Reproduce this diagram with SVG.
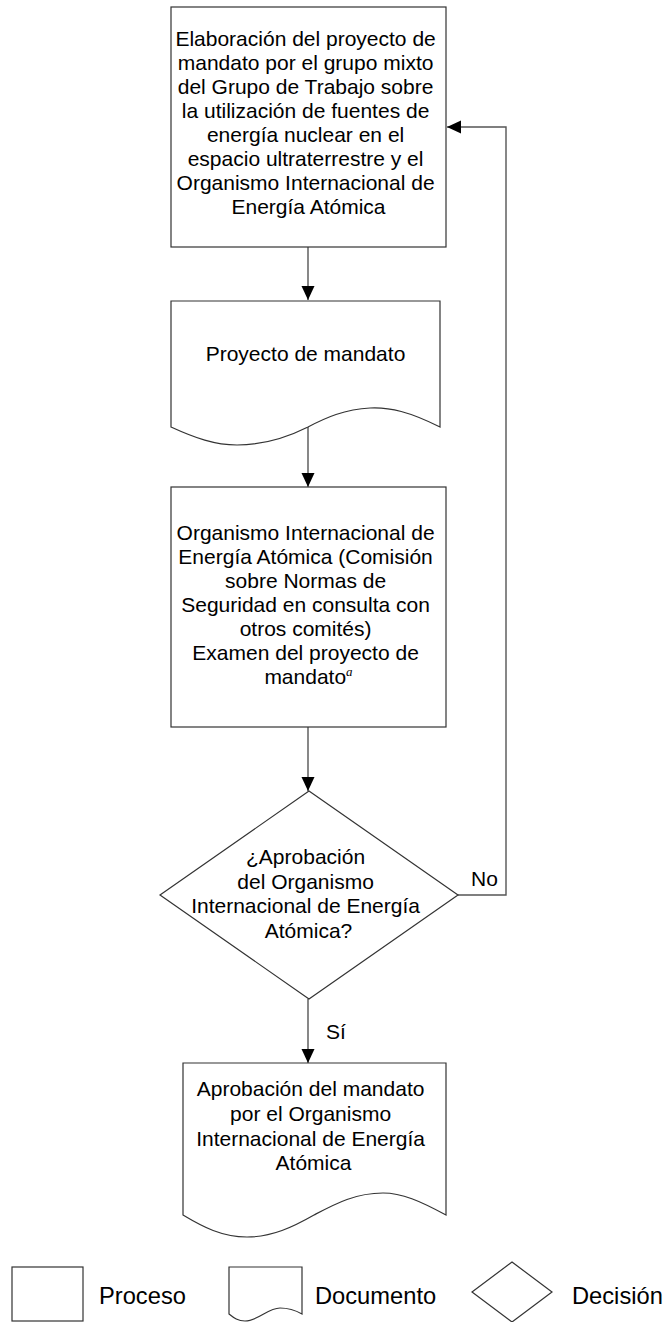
<svg xmlns="http://www.w3.org/2000/svg" width="664" height="1322" viewBox="0 0 664 1322">
<defs>
<style>
.shape{fill:#fff;stroke:#333;stroke-width:1.2}
.conn{fill:none;stroke:#555;stroke-width:1.4}
.t{font-family:"Liberation Sans",Arial,sans-serif;font-size:21px;fill:#000;text-anchor:middle}
.lbl{font-family:"Liberation Sans",Arial,sans-serif;font-size:21px;fill:#000}
.leg{font-family:"Liberation Sans",Arial,sans-serif;font-size:23.7px;fill:#000}
.sup{font-family:"Liberation Serif","Times New Roman",serif;font-style:italic;font-size:13px}
</style>
<marker id="arr" viewBox="0 0 14 14" refX="14" refY="7" markerWidth="14" markerHeight="14" markerUnits="userSpaceOnUse" orient="auto">
<path d="M0,0.5 L14,7 L0,13.5 Z" fill="#000"/>
</marker>
</defs>
<rect width="664" height="1322" fill="#fff"/>

<g id="connectors">
<line class="conn" x1="308" y1="247" x2="308" y2="300" marker-end="url(#arr)"/>
<line class="conn" x1="308" y1="427" x2="308" y2="487" marker-end="url(#arr)"/>
<line class="conn" x1="308" y1="727" x2="308" y2="791" marker-end="url(#arr)"/>
<line class="conn" x1="308" y1="999" x2="308" y2="1063" marker-end="url(#arr)"/>
<polyline class="conn" points="458,895 506,895 506,127 447,127" marker-end="url(#arr)"/>
<text class="lbl" x="471" y="886">No</text>
<text class="lbl" x="326" y="1039">Sí</text>
</g>

<g id="n1">
<rect class="shape" x="171" y="7" width="275" height="240"/>
<text class="t">
<tspan x="308.5" y="46">Elaboración del proyecto de</tspan>
<tspan x="308.5" y="70">mandato por el grupo mixto</tspan>
<tspan x="308.5" y="94">del Grupo de Trabajo sobre</tspan>
<tspan x="308.5" y="118">la utilización de fuentes de</tspan>
<tspan x="308.5" y="142">energía nuclear en el</tspan>
<tspan x="308.5" y="166">espacio ultraterrestre y el</tspan>
<tspan x="308.5" y="190">Organismo Internacional de</tspan>
<tspan x="308.5" y="214">Energía Atómica</tspan>
</text>
</g>

<g id="n2">
<path class="shape" d="M171,301 L440,301 L440,427 C410,412 390,407 370,408 C345,409 325,418 308,427 C290,436 265,445 237,445 C215,445 195,438 171,427 Z"/>
<text class="t" x="305.5" y="361">Proyecto de mandato</text>
</g>

<g id="n3">
<rect class="shape" x="171" y="487" width="275" height="240"/>
<text class="t">
<tspan x="308.5" y="540">Organismo Internacional de</tspan>
<tspan x="308.5" y="564">Energía Atómica (Comisión</tspan>
<tspan x="308.5" y="588">sobre Normas de</tspan>
<tspan x="308.5" y="612">Seguridad en consulta con</tspan>
<tspan x="308.5" y="636">otros comités)</tspan>
<tspan x="308.5" y="660">Examen del proyecto de</tspan>
<tspan x="308.5" y="684">mandato<tspan class="sup" dy="-8">a</tspan></tspan>
</text>
</g>

<g id="n4">
<polygon class="shape" points="309,791 458,895 309,999 160,895"/>
<text class="t">
<tspan x="308.5" y="864">¿Aprobación</tspan>
<tspan x="308.5" y="888.5">del Organismo</tspan>
<tspan x="308.5" y="913">Internacional de Energía</tspan>
<tspan x="308.5" y="937.5">Atómica?</tspan>
</text>
</g>

<g id="n5">
<path class="shape" d="M183,1063 L446,1063 L446,1215 C420,1201 402,1193 383,1193 C355,1193 335,1204 314,1215 C293,1227 272,1237 247,1237 C222,1237 203,1227 183,1215 Z"/>
<text class="t">
<tspan x="313.5" y="1096">Aprobación del mandato</tspan>
<tspan x="313.5" y="1121">por el Organismo</tspan>
<tspan x="313.5" y="1146">Internacional de Energía</tspan>
<tspan x="313.5" y="1170">Atómica</tspan>
</text>
</g>

<g id="legend">
<rect class="shape" x="12" y="1267" width="71" height="54"/>
<text class="leg" x="99" y="1304">Proceso</text>
<path class="shape" d="M229,1267 L302,1267 L302,1314 C295,1310 288,1308 280,1308 C268,1308 258,1321 245,1321 C238,1321 234,1318 229,1314 Z"/>
<text class="leg" x="315" y="1304">Documento</text>
<polygon class="shape" points="512,1262 552,1292 512,1322 472,1292"/>
<text class="leg" x="572" y="1304">Decisión</text>
</g>
</svg>
